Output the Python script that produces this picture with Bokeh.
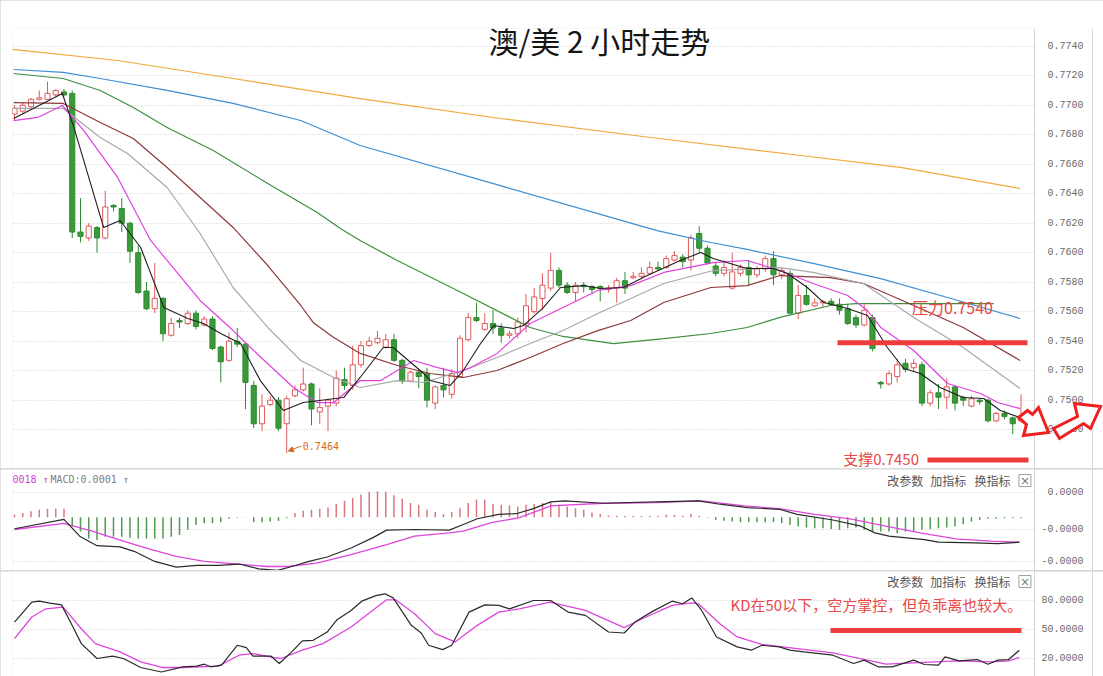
from bokeh.plotting import figure
from bokeh.layouts import column
from bokeh.models import (ColumnDataSource, Range1d, FixedTicker, LinearAxis, Label,
                          Arrow, NormalHead, PrintfTickFormatter)
from bokeh.embed import file_html
from bokeh.resources import INLINE

# ---------------- data ----------------
opens = [.7694, .7696, .7699, .7704, .7704, .7707, .7709, .7708, .7614, .7610,
         .7617, .7610, .7632, .7630, .7620, .7600, .7574, .7562, .7569, .7544,
         .7554, .7552, .7559, .7551, .7555, .7536, .7527, .7540, .7538, .7510,
         .7484, .7497, .7500, .7484, .7503, .7507, .7511, .7492, .7496, .7498,
         .7514, .7510, .7524, .7537, .7539, .7536, .7541, .7527, .7513, .7519,
         .7518, .7498, .7510, .7504, .7516, .7541, .7556, .7548, .7552, .7549,
         .7544, .7545, .7552, .7560, .7569, .7576, .7588, .7578, .7573, .7578,
         .7577, .7577, .7575, .7576, .7581, .7583, .7584, .7586, .7590, .7590,
         .7595, .7597, .7595, .7613, .7603, .7591, .7586, .7576, .7586, .7590,
         .7585, .7589, .7596, .7585, .7586, .7559, .7571, .7564, .7566, .7567,
         .7565, .7562, .7556, .7551, .7556, .7512, .7511, .7516, .7525, .7522,
         .7524, .7498, .7505, .7502, .7509, .7502, .7496, .7500, .7500, .7486,
         .7491, .7488, .7486]
highs = [.7700, .7702, .7705, .7710, .7716, .7711, .7711, .7710, .7637, .7620,
         .7618, .7642, .7633, .7637, .7621, .7605, .7580, .7593, .7570, .7556,
         .7556, .7561, .7561, .7557, .7557, .7537, .7546, .7549, .7539, .7513,
         .7504, .7503, .7502, .7503, .7510, .7522, .7512, .7508, .7501, .7520,
         .7522, .7537, .7540, .7543, .7547, .7545, .7545, .7528, .7520, .7521,
         .7522, .7510, .7522, .7521, .7544, .7559, .7566, .7559, .7561, .7552,
         .7547, .7556, .7572, .7576, .7586, .7600, .7590, .7580, .7580, .7580,
         .7578, .7578, .7578, .7583, .7587, .7587, .7590, .7594, .7594, .7598,
         .7601, .7599, .7612, .7618, .7605, .7593, .7595, .7600, .7592, .7595,
         .7591, .7598, .7601, .7590, .7588, .7578, .7578, .7569, .7568, .7569,
         .7569, .7565, .7558, .7565, .7558, .7513, .7520, .7528, .7528, .7528,
         .7526, .7507, .7511, .7515, .7510, .7503, .7503, .7501, .7501, .7492,
         .7493, .7489, .7504]
lows = [.7690, .7694, .7697, .7703, .7704, .7706, .7706, .7610, .7607, .7608,
        .7600, .7609, .7628, .7614, .7593, .7572, .7561, .7559, .7540, .7543,
        .7549, .7551, .7548, .7550, .7534, .7512, .7526, .7536, .7494, .7481,
        .7479, .7496, .7479, .7464, .7502, .7506, .7483, .7484, .7479, .7496,
        .7507, .7507, .7522, .7536, .7538, .7535, .7526, .7511, .7512, .7508,
        .7495, .7494, .7502, .7501, .7515, .7540, .7553, .7547, .7545, .7539,
        .7542, .7542, .7546, .7559, .7561, .7574, .7576, .7572, .7567, .7573,
        .7572, .7567, .7573, .7566, .7572, .7582, .7582, .7585, .7588, .7589,
        .7594, .7590, .7588, .7600, .7592, .7584, .7584, .7575, .7584, .7578,
        .7583, .7587, .7578, .7582, .7558, .7555, .7564, .7563, .7563, .7564,
        .7558, .7551, .7549, .7550, .7533, .7508, .7510, .7512, .7519, .7519,
        .7496, .7496, .7494, .7494, .7493, .7496, .7495, .7497, .7485, .7485,
        .7487, .7477, .7485]
closes = [.7698, .7700, .7704, .7705, .7708, .7710, .7707, .7614, .7611, .7618,
          .7610, .7631, .7631, .7620, .7601, .7573, .7562, .7569, .7545, .7552,
          .7553, .7559, .7550, .7555, .7535, .7526, .7540, .7538, .7512, .7484,
          .7496, .7500, .7481, .7501, .7507, .7511, .7494, .7495, .7500, .7515,
          .7510, .7524, .7537, .7540, .7542, .7541, .7527, .7513, .7519, .7516,
          .7500, .7509, .7507, .7518, .7542, .7556, .7554, .7552, .7549, .7544,
          .7545, .7553, .7564, .7570, .7578, .7588, .7578, .7573, .7578, .7577,
          .7575, .7576, .7576, .7581, .7576, .7584, .7586, .7590, .7589, .7596,
          .7598, .7594, .7610, .7603, .7593, .7586, .7590, .7587, .7590, .7585,
          .7589, .7596, .7585, .7588, .7559, .7571, .7565, .7566, .7567, .7565,
          .7561, .7552, .7551, .7561, .7535, .7511, .7518, .7524, .7521, .7525,
          .7498, .7505, .7502, .7509, .7498, .7500, .7501, .7499, .7486, .7491,
          .7489, .7484, .7489]

ma5_x = [-0.1, 5.8, 7.2, 10.8, 12.8, 15.3, 18.1, 21.0, 22.9, 25.0, 27.4, 29.8, 32.6, 35.0,
         39.9, 41.9, 44.7, 45.9, 49.6, 50.4, 52.8, 54.4, 56.5, 58.1, 60.5, 61.7, 64.1, 66.2,
         69.0, 71.0, 73.8, 76.7, 80.7, 83.2, 84.7, 88.8, 92.0, 93.7, 96.1, 98.1, 101.0, 103.4,
         105.8, 107.8, 109.8, 112.2, 115.0, 117.5, 119.5, 121.9]
ma5_y = [.76910, .77079, .76849, .76171, .76218, .76035, .75628, .75554, .75520, .75452,
         .75384, .75133, .74930, .74984, .75018, .75154, .75357, .75357, .75181, .75133,
         .75099, .75201, .75384, .75506, .75486, .75506, .75628, .75764, .75777, .75757,
         .75764, .75845, .75947, .76001, .75960, .75893, .75893, .75859, .75764, .75662,
         .75622, .75574, .75357, .75215, .75181, .75086, .75018, .75011, .74930, .74882]

ma10_x = [-0.1, 2.8, 5.8, 8.4, 12.5, 16.5, 22.5, 26.5, 28.6, 33.8, 36.7, 38.7, 41.9, 44.4,
          48.4, 51.3, 53.7, 55.3, 58.5, 62.5, 66.5, 70.7, 74.7, 78.7, 84.7, 88.8, 92.8, 96.8,
          101.0, 103.4, 105.0, 109.0, 113.1, 117.1, 119.2, 121.9]
ma10_y = [.76896, .76917, .76998, .76828, .76510, .76083, .75676, .75472, .75357, .75086,
          .74984, .74984, .75133, .75133, .75269, .75221, .75187, .75221, .75317, .75520,
          .75628, .75744, .75777, .75866, .75933, .75947, .75879, .75791, .75710, .75608,
          .75493, .75337, .75113, .75045, .74984, .74943]

ma20_x = [-0.1, 5.9, 10.4, 13.7, 18.5, 22.5, 26.5, 30.7, 34.7, 38.7, 41.9, 46.4, 49.6, 54.4,
          58.5, 62.5, 66.5, 70.7, 74.7, 78.7, 84.7, 92.8, 96.8, 102.9, 109.0, 115.0, 121.9]
ma20_y = [.76978, .76978, .76781, .76672, .76442, .76130, .75764, .75493, .75269, .75154,
          .75086, .75133, .75120, .75201, .75289, .75384, .75472, .75588, .75689, .75791,
          .75879, .75899, .75866, .75791, .75561, .75357, .75079]

ma30_x = [-0.1, 5.9, 10.4, 14.4, 18.5, 22.5, 26.5, 30.7, 34.7, 36.2, 38.7, 41.9, 46.4, 50.4,
          54.4, 58.5, 62.5, 66.5, 70.7, 74.7, 78.7, 84.4, 88.8, 92.8, 98.9, 102.9, 109.0,
          115.0, 121.9]
ma30_y = [.77018, .77012, .76883, .76774, .76578, .76374, .76171, .75913, .75642, .75527,
          .75425, .75317, .75235, .75181, .75154, .75201, .75289, .75384, .75472, .75540,
          .75662, .75764, .75777, .75845, .75831, .75791, .75642, .75493, .75269]

ma60_x = [-0.1, 5.9, 10.4, 14.4, 18.5, 24.1, 30.7, 36.7, 39.5, 41.9, 46.4, 54.4, 62.5, 66.5,
          72.6, 78.7, 84.4, 88.8, 92.8, 98.9, 102.0, 118.7]
ma60_y = [.77215, .77181, .77100, .76984, .76849, .76693, .76469, .76272, .76164, .76083,
          .75947, .75723, .75493, .75432, .75384, .75418, .75452, .75493, .75561, .75642,
          .75655, .75655]

ma120_x = [-0.1, 5.9, 10.4, 18.5, 26.5, 34.7, 41.9, 58.9, 77.9, 84.4, 88.8, 96.8, 105.0,
           113.1, 121.9]
ma120_y = [.77242, .77222, .77181, .77100, .77012, .76896, .76727, .76455, .76150, .76069,
           .76022, .75927, .75824, .75696, .75554]

ma250_x = [-0.24, 12.5, 26.5, 41.9, 58.9, 77.1, 95.3, 107.4, 121.9]
ma250_y = [.77378, .77303, .77181, .77045, .76910, .76781, .76659, .76578, .76435]

# MACD (units of 1e-6)
macd_hist = [1.9, 3.3, 4.7, 6.0, 6.8, 6.8, 6.8, -7.6, -11.7, -17.2,
             -18.5, -15.8, -15.8, -15.8, -16.6, -17.2, -17.2, -17.2, -17.2, -15.8,
             -14.4, -10.3, -6.3, -4.9, -4.9, -4.1, -1.3, -0.5, -0.3, -4.1,
             -4.1, -3.5, -3.0, -0.8, 3.3, 5.2, 6.0, 6.8, 7.9, 10.6,
             13.4, 15.6, 18.3, 20.5, 21.0, 20.5, 17.7, 15.0, 11.5, 10.1,
             6.0, 4.1, 2.5, 4.1, 7.3, 11.5, 14.3, 14.3, 10.6, 10.1,
             9.6, 8.7, 10.1, 10.6, 11.5, 12.3, 10.1, 8.7, 7.3, 6.0,
             3.8, 2.5, 1.4, 1.2, 0.9, 0.9, 0.9, 0.9, 1.2, 1.9,
             1.9, 1.2, 2.7, 1.2, -0.4, -2.2, -3.0, -3.5, -4.1, -4.1,
             -4.1, -4.1, -4.1, -4.9, -6.3, -7.6, -8.4, -9.0, -9.0, -9.5,
             -10.3, -9.0, -8.4, -10.3, -11.7, -11.7, -11.7, -13.1, -11.7, -11.2,
             -10.3, -9.5, -9.0, -8.4, -7.6, -5.7, -3.5, -2.2, -1.3, -1.3,
             -0.8, -0.8, -0.8]
dif_x = [0, 6.0, 7.9, 10.0, 12.8, 14.5, 17.0, 19.6, 22.1, 24.7, 27.2, 29.6, 31.9, 33.6,
         35.7, 37.9, 40.8, 43.4, 45.1, 48.5, 52.7, 54.4, 56.1, 58.7, 60.8, 62.9, 65.0,
         66.7, 71.4, 77.8, 82.9, 85.5, 88.9, 92.7, 94.9, 99.2, 102.6, 104.3, 106.0, 110.3,
         112.0, 116.3, 119.2, 121.8]
dif_y = [-9.4, -1.8, -15.4, -23.1, -24.1, -27.7, -35.9, -40.5, -39.1, -39.1, -38.0, -41.9,
         -43.2, -40.0, -35.9, -32.3, -25.0, -16.8, -10.5, -10.0, -10.5, -5.9, -1.3, 2.3,
         2.8, 6.9, 12.4, 13.2, 11.3, 12.4, 13.2, 10.5, 7.7, 6.4, 2.3, -2.3, -7.3, -12.7,
         -15.4, -18.2, -20.3, -20.9, -21.4, -20.3]
dea_x = [0, 6.0, 9.4, 13.2, 16.6, 19.6, 23.0, 27.2, 30.6, 33.2, 36.6, 40.8, 45.1, 48.5,
         52.7, 54.4, 57.8, 61.2, 65.0, 71.4, 77.8, 83.3, 88.5, 92.7, 97.0, 101.3, 105.6,
         109.8, 114.1, 118.4, 121.8]
dea_y = [-10.0, -5.1, -11.3, -19.5, -26.3, -31.8, -35.9, -38.0, -40.0, -40.0, -37.2, -30.4,
         -22.2, -15.4, -12.7, -11.3, -4.5, -0.4, 9.1, 11.3, 11.8, 13.2, 9.1, 6.9, 2.3, -1.3,
         -7.3, -12.7, -17.6, -19.5, -20.3]

# KD
k_x = [0, 2.1, 3.0, 4.3, 5.7, 7.2, 8.1, 10.0, 11.9, 13.2, 15.3, 17.8, 20.4, 22.1, 23.0,
       23.8, 25.1, 27.0, 28.1, 28.9, 31.1, 32.1, 33.6, 34.9, 36.2, 37.9, 39.1, 40.8, 42.1,
       43.8, 44.9, 45.9, 48.1, 49.3, 50.2, 51.9, 53.0, 55.1, 57.0, 58.7, 60.0, 62.9, 65.0,
       67.1, 69.2, 72.0, 73.9, 75.2, 77.4, 79.7, 81.0, 82.1, 83.3, 85.1, 87.6, 89.3, 90.6,
       92.7, 94.0, 95.7, 99.2, 101.7, 103.0, 104.7, 106.4, 109.0, 110.3, 112.0, 112.8,
       114.5, 116.7, 118.0, 119.2, 120.5, 121.8]
k_y = [57.7, 78.3, 79.3, 77.3, 75.5, 50.8, 35.4, 20.0, 22.4, 20.0, 10.7, 6.0, 11.4, 12.1,
       14.1, 11.4, 13.1, 33.7, 31.3, 22.4, 22.4, 14.8, 26.8, 38.2, 38.8, 47.4, 60.1, 69.7,
       79.3, 85.1, 86.9, 82.7, 54.3, 46.4, 33.7, 29.2, 33.7, 68.0, 75.5, 74.9, 71.4, 80.0,
       80.0, 68.0, 64.6, 47.4, 46.4, 57.7, 69.0, 79.3, 76.6, 82.7, 69.7, 42.3, 32.0, 28.6,
       33.7, 32.0, 28.6, 26.8, 23.4, 14.8, 18.3, 11.4, 11.4, 18.3, 13.8, 13.1, 21.7, 17.6,
       18.9, 14.1, 18.3, 18.9, 28.6]
d_x = [0, 2.1, 3.8, 5.9, 8.1, 9.8, 12.8, 15.3, 17.9, 20.4, 24.7, 27.2, 28.9, 31.5, 32.3,
       34.9, 37.4, 40.8, 43.4, 45.1, 46.2, 48.5, 51.0, 53.4, 56.1, 58.7, 61.2, 64.9, 69.2,
       73.9, 76.1, 79.7, 82.1, 82.9, 85.5, 87.6, 90.6, 94.9, 99.2, 103.4, 105.6, 109.0,
       114.1, 118.4, 120.5, 121.8]
d_y = [40.6, 62.9, 71.4, 73.1, 50.8, 35.4, 26.8, 16.5, 10.7, 10.7, 12.1, 23.4, 25.1, 21.0,
       20.0, 28.6, 35.4, 52.6, 69.7, 80.7, 80.7, 66.3, 45.7, 37.1, 54.3, 68.0, 71.4, 78.3,
       69.7, 51.9, 61.1, 74.9, 77.6, 76.6, 56.0, 42.3, 34.7, 30.3, 25.8, 18.3, 14.1, 15.5,
       17.6, 16.5, 17.6, 21.0]

price_ticks = [0.7480, 0.7500, 0.7520, 0.7540, 0.7560, 0.7580, 0.7600, 0.7620,
               0.7640, 0.7660, 0.7680, 0.7700, 0.7720, 0.7740]
macd_ticks = [20, -10, -36]
macd_tick_labels = ["0.0000", "-0.0000", "-0.0000"]
kd_ticks = [80, 50, 20]
kd_tick_labels = ["80.0000", "50.0000", "20.0000"]

# ---------------- styling ----------------
RED = "#e05a5a"
GREEN = "#2f8a2f"
ANN_RED = "#ee3b3b"
GRID = "#cfcfcf"
AXC = "#d6d6d6"
LBL = "#6a6a6a"
NB = "\u00a0"

X0, X1 = -0.242, 123.64
W = 1103


def make_fig(h, y0, y1, top, ticks, standoff):
    p = figure(width=W, height=h, x_range=Range1d(X0, X1), y_range=Range1d(y0, y1),
               output_backend="svg", toolbar_location=None, x_axis_location=None,
               y_axis_location="right", min_border_left=12, min_border_right=69,
               min_border_top=top, min_border_bottom=0, outline_line_color=None,
               background_fill_color="white", border_fill_color="white")
    ax = p.yaxis[0]
    ax.ticker = FixedTicker(ticks=ticks)
    ax.major_tick_out = 0
    ax.major_tick_in = 0
    ax.minor_tick_line_color = None
    ax.major_tick_line_color = None
    ax.axis_line_color = AXC
    ax.major_label_standoff = standoff
    ax.major_label_text_font = "Liberation Mono"
    ax.major_label_text_font_size = "10px"
    ax.major_label_text_color = LBL
    p.ygrid.ticker = FixedTicker(ticks=ticks)
    p.ygrid.grid_line_color = GRID
    p.ygrid.grid_line_dash = "1 2"
    p.xgrid.visible = False
    ax2 = LinearAxis(ticker=FixedTicker(ticks=[]), axis_line_color=AXC,
                     major_tick_line_color=None, minor_tick_line_color=None,
                     major_label_text_font_size="0px", major_label_standoff=0)
    p.add_layout(ax2, "right")
    return p


# ---------------- main pane ----------------
p1 = make_fig(468, 0.745368, 0.775200, 28, price_ticks, 13)
p1.yaxis[0].formatter = PrintfTickFormatter(format="%.4f" + NB)

idx = list(range(len(opens)))
up = [i for i in idx if closes[i] >= opens[i]]
dn = [i for i in idx if closes[i] < opens[i]]


def csrc(sel):
    return ColumnDataSource(dict(
        x=[idx[i] for i in sel],
        top=[max(opens[i], closes[i]) for i in sel],
        bottom=[min(opens[i], closes[i]) for i in sel],
        high=[highs[i] for i in sel],
        low=[lows[i] for i in sel]))


s_up, s_dn = csrc(up), csrc(dn)

ma_styles = [(ma250_x, ma250_y, "#f2a93b", 1.2), (ma120_x, ma120_y, "#3d8fd6", 1.2),
             (ma60_x, ma60_y, "#3e8e3e", 1.2), (ma30_x, ma30_y, "#8e3838", 1.2),
             (ma20_x, ma20_y, "#a8a8a8", 1.2), (ma10_x, ma10_y, "#e040e0", 1.2),
             (ma5_x, ma5_y, "#1e1e1e", 1.1)]

p1.segment(x0="x", y0="low", x1="x", y1="high", source=s_up, line_color=RED, line_width=1)
p1.segment(x0="x", y0="low", x1="x", y1="high", source=s_dn, line_color=GREEN, line_width=1)
p1.vbar(x="x", width=0.62, top="top", bottom="bottom", source=s_up,
        fill_color="white", line_color=RED, line_width=1)
p1.vbar(x="x", width=0.62, top="top", bottom="bottom", source=s_dn,
        fill_color="#3a9a3a", line_color=GREEN, line_width=1)

for xs, ys, c, w in ma_styles:
    p1.line(xs, ys, line_color=c, line_width=w)

# annotations main pane
p1.add_layout(Label(x=70.9, y=0.77445, text="澳/美 2 小时走势", text_align="center",
                    text_baseline="middle", text_font="Noto Sans CJK SC",
                    text_font_size="30px", text_color="#151515"))
p1.line([99.76, 122.79], [0.7539, 0.7539], line_color=ANN_RED, line_width=5)
p1.line([110.67, 122.91], [0.74594, 0.74594], line_color=ANN_RED, line_width=5)
p1.add_layout(Label(x=108.8, y=0.75635, text="压力0.7540", text_baseline="middle",
                    text_font="Noto Sans CJK SC", text_font_size="16px",
                    text_color="#e84848"))
p1.add_layout(Label(x=100.45, y=0.74605, text="支撑0.7450", text_baseline="middle",
                    text_font="Noto Sans CJK SC", text_font_size="15px",
                    text_color="#e84848"))
p1.add_layout(Label(x=34.95, y=0.74686, text="0.7464", text_baseline="middle",
                    text_font="DejaVu Sans Mono", text_font_size="10px",
                    text_color="#d2691e"))
p1.add_layout(Arrow(end=NormalHead(size=5, fill_color="#d2691e", line_color="#d2691e"),
                    x_start=34.8, y_start=0.74690, x_end=33.2, y_end=0.74655,
                    line_color="#d2691e", line_width=1))

# ---------------- MACD pane ----------------
p2 = make_fig(101, -43.24, 38.65, 0, macd_ticks, 7)
p2.yaxis[0].major_label_overrides = {
    t: (NB + s if not s.startswith("-") else s) + NB for t, s in zip(macd_ticks, macd_tick_labels)}
hp = [i for i in idx if macd_hist[i] >= 0]
hn = [i for i in idx if macd_hist[i] < 0]
p2.segment(x0=hp, y0=[0] * len(hp), x1=hp, y1=[macd_hist[i] for i in hp],
           line_color="#d8787c", line_width=1.5)
p2.segment(x0=hn, y0=[0] * len(hn), x1=hn, y1=[macd_hist[i] for i in hn],
           line_color="#4f9a4f", line_width=1.5)
p2.line(dea_x, dea_y, line_color="#dd45dd", line_width=1.3)
p2.line(dif_x, dif_y, line_color="#2a2a2a", line_width=1.2)
p2.add_layout(Label(x=-0.24, y=30.6, text="0018 ↑", text_baseline="middle",
                    text_font="DejaVu Sans Mono", text_font_size="10px", text_color="#d13fd1"))
p2.add_layout(Label(x=4.36, y=30.6, text="MACD:0.0001 ↑", text_baseline="middle",
                    text_font="DejaVu Sans Mono", text_font_size="10px", text_color="#808080"))


def buttons(p, yv):
    for xv, t in [(105.8, "改参数"), (111.0, "加指标"), (116.36, "换指标")]:
        p.add_layout(Label(x=xv, y=yv, text=t, text_baseline="middle",
                           text_font="Noto Sans CJK SC", text_font_size="12px",
                           text_color="#555555"))
    p.rect(x=[122.48], y=[yv], width=12, height=12, width_units="screen",
           height_units="screen", fill_color="white", line_color="#a0a0a0")
    p.add_layout(Label(x=122.48, y=yv, text="×", text_align="center", text_baseline="middle",
                       text_font="DejaVu Sans", text_font_size="12px", text_color="#777777"))


buttons(p2, 29.7)

# ---------------- KD pane ----------------
p3 = make_fig(105, 1.38, 110.0, 0, kd_ticks, 7)
p3.yaxis[0].major_label_overrides = {t: s + NB for t, s in zip(kd_ticks, kd_tick_labels)}
p3.line(d_x, d_y, line_color="#dd45dd", line_width=1.3)
p3.line(k_x, k_y, line_color="#2a2a2a", line_width=1.2)
buttons(p3, 99.65)
p3.add_layout(Label(x=86.79, y=75.9, text="KD在50以下，空方掌控，但负乖离也较大。",
                    text_baseline="middle", text_font="Noto Sans CJK SC",
                    text_font_size="15px", text_color="#e84848"))
p3.line([98.91, 122.06], [49.0, 49.0], line_color=ANN_RED, line_width=5)

layout = column(p1, p2, p3, spacing=1, styles={"background-color": "#d8d8d8"})

# ---------------- overlay with the two hand-drawn outline arrows ----------------
# (page-pixel coordinates; a transparent figure laid over the right edge)
pa = figure(width=93, height=48, x_range=Range1d(1010, 1103), y_range=Range1d(444, 396),
            output_backend="svg", toolbar_location=None, x_axis_location=None,
            y_axis_location=None, min_border=0, min_border_left=0, min_border_right=0,
            min_border_top=0, min_border_bottom=0, outline_line_color=None,
            background_fill_color=None, border_fill_color=None,
            styles={"position": "absolute", "left": "1010px", "top": "396px"})
pa.xgrid.visible = False
pa.ygrid.visible = False
pa.patches(xs=[[1018, 1027, 1032, 1038, 1048, 1023, 1026],
               [1053, 1077, 1074, 1100, 1090, 1083, 1059]],
           ys=[[417, 410, 414, 407, 432, 435, 424],
               [428, 416, 403, 406, 428, 423, 438]],
           fill_color="white", line_color="#f01e1e", line_width=3, line_join="miter")

open("out.html", "w").write(file_html([layout, pa], INLINE))
